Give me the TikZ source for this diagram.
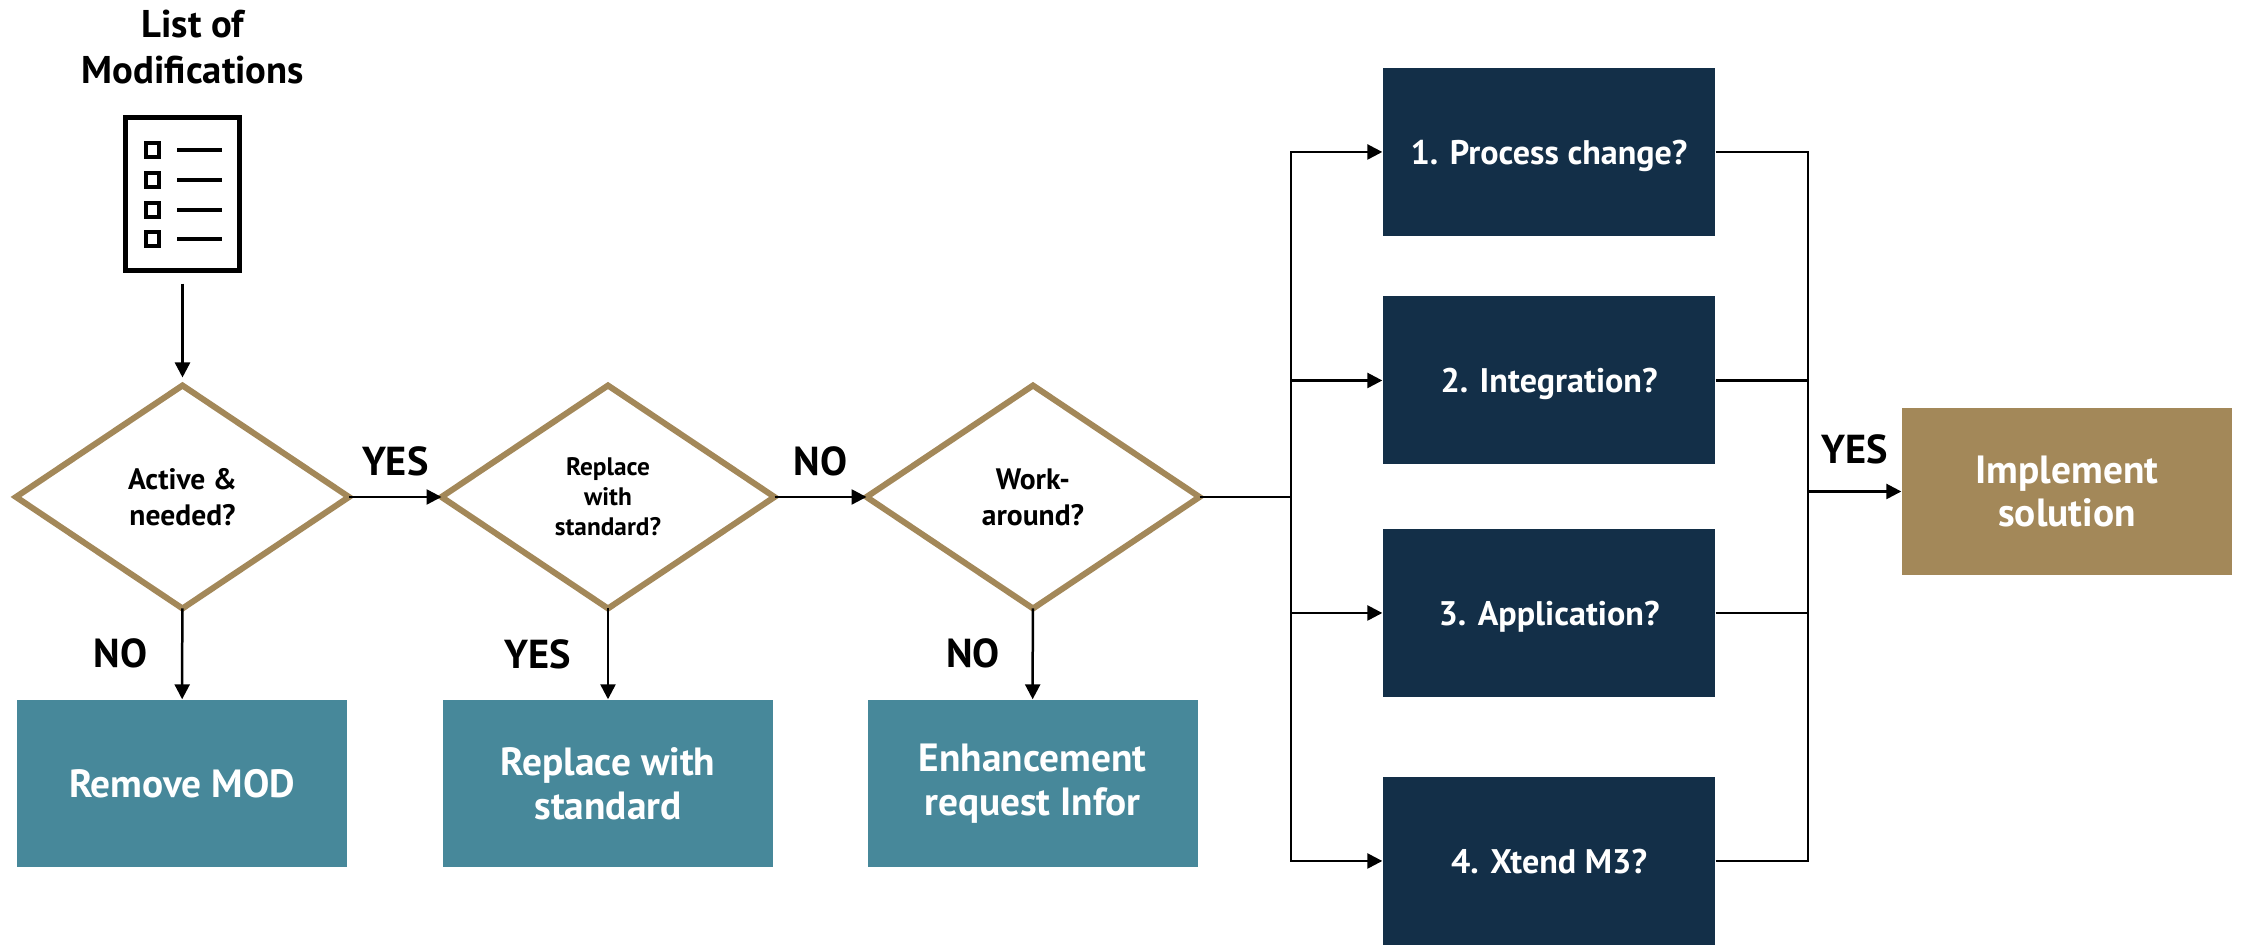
\documentclass[tikz,border=0pt]{standalone}
\usepackage{fontspec}
\setmainfont{PT Sans}
\usetikzlibrary{shapes.geometric,arrows.meta}
\definecolor{gold}{HTML}{A38859}
\definecolor{teal}{HTML}{47889A}
\definecolor{navy}{HTML}{132F48}
\newcommand{\drawcheck}[1]{
\draw[line width=0.04cm] (1.46,#1-0.07) rectangle (1.59,#1+0.07);
\draw[line width=0.035cm] (1.77,#1) -- (2.22,#1);}
\tikzset{
 question/.style={diamond,draw=gold,line width=0.06cm,inner sep=-0.5cm,outer sep=0,minimum width=3.33cm,minimum height=2.23cm,align=center,font=\fontsize{8.4}{10.2}\selectfont\bfseries},
 action/.style={fill=teal,text=white,minimum width=3.30cm,minimum height=1.67cm,inner sep=0,align=center,font=\fontsize{11.2}{12.5}\selectfont\bfseries},
 option/.style={fill=navy,text=white,minimum width=3.32cm,minimum height=1.68cm,inner sep=0,text depth=0pt,font=\fontsize{9.7}{12}\selectfont\bfseries},
 answer/.style={font=\fontsize{11.5}{13}\selectfont\bfseries},
 link/.style={->,line width=0.025cm},
 wire/.style={line width=0.025cm}
}
\begin{document}
\begin{tikzpicture}[>={Triangle[length=0.15cm,width=0.15cm]}]
\useasboundingbox (0,0) rectangle (22.41,9.45);
\node[align=center,font=\fontsize{11}{13}\selectfont\bfseries] (title) at (1.93,8.98) {List of\\Modifications};
\node[draw,line width=0.045cm,minimum width=1.14cm,minimum height=1.53cm,inner sep=0] (listicon) at (1.825,7.51) {};
\foreach \y in {7.95,7.65,7.35,7.06}{
\drawcheck{\y}
}
\node[question] (active) at (1.825,4.48) {Active \&\\needed?};
\node[question,font=\fontsize{7.2}{8.5}\selectfont\bfseries] (replace) at (6.08,4.48) {Replace\\with\\standard?};
\node[question] (work) at (10.33,4.48) {Work-\\around?};
\node[action,text depth=0pt] (remove) at (1.82,1.615) {Remove MOD};
\node[action] (standard) at (6.08,1.615) {Replace with\\standard};
\node[action] (request) at (10.325,1.615) {Enhancement\\request Infor};
\node[option] (process) at (15.49,7.93) {1. Process change?};
\node[option] (integration) at (15.49,5.645) {2. Integration?};
\node[option] (application) at (15.49,3.32) {3. Application?};
\node[option] (xtend) at (15.49,0.84) {4. Xtend M3?};
\node[action,fill=gold] (implement) at (20.67,4.535) {Implement\\solution};
\coordinate (busin) at (12.91,4.48);
\coordinate (busout) at (18.08,4.535);
\draw[link,shorten <=0.11cm,shorten >=0.08cm] (listicon) -- (active);
\draw[link] (active) -- node[answer,above=0.08cm] (yesa) {YES} (replace);
\draw[link] (replace) -- node[answer,above=0.08cm] (noa) {NO} (work);
\draw[link] (active) -- node[answer,left=0.22cm,pos=0.5] (nob) {NO} (remove);
\draw[link] (replace) -- node[answer,left=0.24cm,pos=0.5] (yesb) {YES} (standard);
\draw[link] (work) -- node[answer,left=0.2cm,pos=0.5] (noc) {NO} (request);
\draw[wire] (work) -- (busin);
\draw[link] (busin) |- (process);
\draw[link] (busin) |- (integration);
\draw[link] (busin) |- (application);
\draw[link] (busin) |- (xtend);
\draw[wire] (process) -| (busout);
\draw[wire] (integration) -| (busout);
\draw[wire] (application) -| (busout);
\draw[wire] (xtend) -| (busout);
\draw[link] (busout) -- node[answer,above=0.14cm] (yesc) {YES} (implement);
\end{tikzpicture}
\end{document}
